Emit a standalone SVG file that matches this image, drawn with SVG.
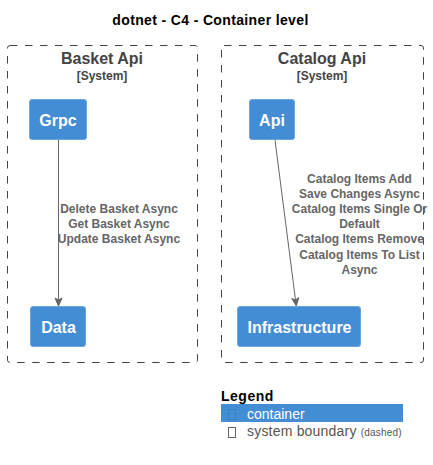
<svg xmlns="http://www.w3.org/2000/svg" width="433" height="465" viewBox="0 0 433 465">
<style>
text{font-family:"Liberation Sans",Arial,sans-serif;text-anchor:middle}
.title{font-size:14px;font-weight:bold;fill:#000;letter-spacing:.36px}
.bname{font-size:16px;font-weight:bold;fill:#444}
.btag{font-size:12px;font-weight:bold;fill:#444}
.bound{fill:none;stroke:#444;stroke-width:1;stroke-dasharray:7.5,7.5}
.box{fill:#438DD5;stroke:#6FA5DD;stroke-width:1}
.nlabel{font-size:16px;font-weight:bold;fill:#fff}
.edge{fill:none;stroke:#666;stroke-width:1}
.head{fill:#666;stroke:#666;stroke-width:1}
.elabel{font-size:12px;font-weight:bold;fill:#666}
.leg{text-anchor:start;font-size:14px}
.tofu{fill:none;stroke-width:1}
</style>
<text class="title" x="210.5" y="25">dotnet - C4 - Container level</text>
<g id="boundary-basket">
<rect class="bound" x="7.5" y="45.5" width="190" height="317" rx="2.5"/>
<text class="bname" x="102" y="64">Basket Api</text>
<text class="btag" x="102" y="80">[System]</text>
</g>
<g id="boundary-catalog">
<rect class="bound" x="221.5" y="45.5" width="202" height="317" rx="2.5"/>
<text class="bname" x="322" y="64">Catalog Api</text>
<text class="btag" x="322" y="80">[System]</text>
</g>
<g id="node-grpc">
<rect class="box" x="29.5" y="99.5" width="57" height="40" rx="2.5"/>
<text class="nlabel" x="58" y="126">Grpc</text>
</g>
<g id="node-data">
<rect class="box" x="30.5" y="306.5" width="55" height="40" rx="2.5"/>
<text class="nlabel" x="58.5" y="333">Data</text>
</g>
<g id="node-api">
<rect class="box" x="249.5" y="99.5" width="45" height="40" rx="2.5"/>
<text class="nlabel" x="272" y="126">Api</text>
</g>
<g id="node-infrastructure">
<rect class="box" x="237.5" y="306.5" width="123" height="40" rx="2.5"/>
<text class="nlabel" x="299.5" y="333">Infrastructure</text>
</g>
<g id="connectors">
<path class="edge" d="M58.5 140V300"/>
<path class="head" d="M58.5 306L55 298L58.5 300L62 298Z"/>
<text class="elabel" x="119" y="213">Delete Basket Async</text>
<text class="elabel" x="119" y="228">Get Basket Async</text>
<text class="elabel" x="119" y="243">Update Basket Async</text>
<path class="edge" d="M275 140L295.5 300"/>
<path class="head" d="M296.3 306L291.8 298.5L295.5 300L298.8 297.6Z"/>
<text class="elabel" x="359.5" y="183">Catalog Items Add</text>
<text class="elabel" x="359.5" y="198">Save Changes Async</text>
<text class="elabel" x="359.5" y="213">Catalog Items Single Or</text>
<text class="elabel" x="359.5" y="228">Default</text>
<text class="elabel" x="359.5" y="243">Catalog Items Remove</text>
<text class="elabel" x="359.5" y="259">Catalog Items To List</text>
<text class="elabel" x="359.5" y="274">Async</text>
</g>
<g id="legend">
<text class="leg" x="221" y="401" style="font-weight:bold;fill:#000;letter-spacing:.5px">Legend</text>
<rect x="221" y="404" width="182" height="18" fill="#438DD5"/>
<rect class="tofu" x="228.5" y="409.5" width="7" height="10" stroke="#3C7FC0"/>
<text class="leg" x="247" y="419" fill="#fff">container</text>
<rect class="tofu" x="228.5" y="427.5" width="7" height="10" stroke="#666"/>
<text class="leg" x="247" y="436" fill="#555" style="letter-spacing:.2px">system boundary <tspan style="font-size:10px;letter-spacing:.2px">(dashed)</tspan></text>
</g>
</svg>
